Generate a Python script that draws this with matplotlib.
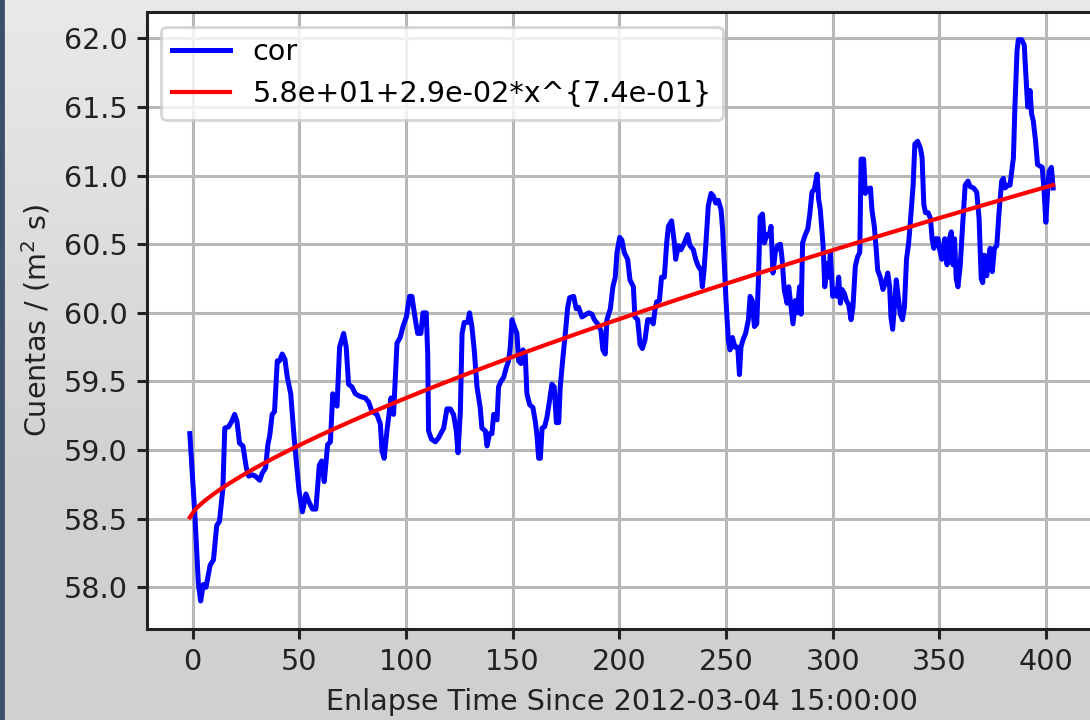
import numpy as np
import matplotlib
matplotlib.use("Agg")
import matplotlib.pyplot as plt
from matplotlib.patches import Rectangle

# ---- data ----
hours = [-1.3, 1.1, 2.7, 3.8, 5.0, 6.3, 8.2, 9.8, 11.3, 12.6, 14.2, 15.1, 16.9, 18.4, 19.7, 20.8,
         22.0, 23.6, 25.2, 26.3, 27.9, 29.4, 31.5, 32.6, 34.2, 35.3, 36.2, 37.3, 38.4, 39.7, 40.8,
         42.0, 43.3, 44.4, 46.0, 47.6, 49.9, 51.5, 53.1, 54.6, 56.2, 57.8, 59.4, 60.5, 61.7, 63.3,
         64.6, 65.7, 67.7, 68.9, 70.8, 72.0, 73.1, 74.7, 76.3, 78.6, 80.9, 82.5, 84.1, 86.4, 88.0,
         88.8, 89.8, 91.1, 91.9, 93.0, 94.2, 95.8, 97.3, 98.6, 100.2, 101.7, 102.8, 104.4, 105.5,
         107.0, 108.0, 109.5, 110.2, 110.6, 111.9, 113.8, 115.3, 117.7, 119.2, 120.8, 122.3, 123.6,
         124.4, 125.5, 126.3, 127.3, 128.9, 129.8, 130.9, 132.0, 133.3, 134.8, 135.6, 137.2, 138.0,
         139.2, 140.3, 141.1, 142.7, 143.4, 144.5, 145.8, 147.0, 148.1, 148.9, 149.7, 150.8, 152.0,
         152.8, 153.9, 154.8, 155.9, 156.7, 158.0, 159.5, 160.6, 161.4, 162.2, 163.0, 163.8, 165.0,
         166.1, 167.3, 168.4, 169.5, 170.5, 171.6, 172.3, 173.6, 174.7, 175.8, 176.7, 178.6, 179.8,
         180.9, 182.5, 183.6, 185.6, 187.2, 188.3, 189.8, 191.4, 192.3, 193.4, 194.2, 195.8, 197.0,
         198.1, 198.9, 200.2, 201.2, 202.3, 203.9, 205.0, 206.6, 207.3, 208.6, 209.7, 210.8, 212.0,
         213.3, 214.8, 215.9, 216.7, 217.5, 218.8, 219.8, 221.1, 222.2, 223.0, 224.5, 225.8, 226.4,
         227.7, 228.9, 230.5, 232.0, 233.1, 234.7, 235.8, 237.0, 238.3, 238.9, 239.7, 240.6, 241.7,
         243.0, 244.1, 245.2, 246.4, 247.7, 248.4, 249.2, 250.0, 251.1, 251.9, 253.0, 254.2, 255.5,
         256.3, 257.0, 258.1, 259.2, 260.5, 261.3, 262.3, 263.3, 264.4, 265.2, 266.0, 267.1, 268.0,
         269.1, 270.2, 271.1, 272.0, 273.1, 274.2, 275.5, 276.3, 277.3, 278.6, 279.4, 280.5, 281.4,
         282.5, 283.3, 284.5, 285.2, 285.9, 287.2, 288.3, 289.2, 290.3, 291.4, 292.7, 293.4, 294.2,
         295.5, 296.3, 297.3, 298.1, 298.9, 300.0, 300.9, 302.0, 302.8, 303.6, 304.4, 305.5, 306.4,
         307.5, 308.6, 309.5, 310.6, 311.7, 312.7, 313.3, 314.5, 315.3, 316.4, 317.7, 318.4, 319.5,
         320.5, 321.1, 322.3, 323.6, 324.7, 325.8, 326.7, 327.3, 328.1, 328.9, 329.8, 330.9, 331.7,
         332.7, 333.6, 334.6, 335.6, 336.4, 337.7, 338.5, 339.8, 341.1, 341.9, 342.7, 343.5, 344.7,
         345.8, 346.6, 347.4, 348.4, 349.4, 350.0, 351.2, 352.5, 353.6, 354.7, 355.6, 356.4, 357.1,
         357.9, 358.7, 359.8, 360.9, 362.1, 363.4, 364.4, 366.0, 367.5, 368.6, 369.6, 370.3, 371.1,
         372.2, 373.0, 373.8, 374.8, 375.8, 376.9, 378.0, 379.2, 380.0, 380.8, 382.0, 383.1, 383.9,
         384.7, 385.4, 386.4, 387.0, 388.6, 389.8, 390.4, 391.4, 392.5, 393.2, 394.0, 395.1, 396.0,
         397.1, 398.2, 399.1, 399.9, 400.7, 401.4, 402.5, 403.3]

cor = [59.12, 58.52, 58.03, 57.90, 58.02, 58.00, 58.16, 58.20, 58.45, 58.48, 58.72, 59.16, 59.17,
       59.21, 59.26, 59.21, 59.05, 59.03, 58.87, 58.81, 58.82, 58.81, 58.78, 58.83, 58.87, 59.04,
       59.11, 59.26, 59.28, 59.65, 59.65, 59.70, 59.66, 59.53, 59.41, 59.09, 58.70, 58.55, 58.68,
       58.62, 58.57, 58.57, 58.89, 58.92, 58.77, 59.04, 59.06, 59.41, 59.32, 59.75, 59.85, 59.75,
       59.48, 59.46, 59.41, 59.39, 59.38, 59.35, 59.28, 59.26, 59.19, 58.99, 58.94, 59.14, 59.24,
       59.38, 59.26, 59.78, 59.82, 59.90, 59.97, 60.12, 60.12, 59.95, 59.85, 59.85, 60.00, 60.00,
       59.70, 59.14, 59.08, 59.06, 59.09, 59.16, 59.30, 59.30, 59.26, 59.14, 58.98, 59.28, 59.85,
       59.93, 59.93, 60.00, 59.90, 59.73, 59.46, 59.31, 59.16, 59.14, 59.03, 59.12, 59.12, 59.26,
       59.22, 59.46, 59.50, 59.53, 59.60, 59.65, 59.75, 59.95, 59.90, 59.85, 59.65, 59.63, 59.73,
       59.70, 59.41, 59.33, 59.31, 59.21, 59.11, 58.94, 58.94, 59.16, 59.17, 59.24, 59.36, 59.48,
       59.46, 59.20, 59.20, 59.46, 59.68, 59.85, 60.04, 60.11, 60.12, 60.03, 60.04, 59.97, 59.98,
       60.00, 59.99, 59.95, 59.92, 59.87, 59.73, 59.70, 59.95, 60.03, 60.19, 60.26, 60.44, 60.55,
       60.53, 60.44, 60.39, 60.24, 60.19, 59.97, 59.95, 59.77, 59.74, 59.80, 59.95, 59.95, 59.92,
       60.02, 60.08, 60.09, 60.26, 60.26, 60.51, 60.63, 60.67, 60.51, 60.39, 60.49, 60.46, 60.51,
       60.57, 60.49, 60.46, 60.39, 60.34, 60.31, 60.19, 60.31, 60.51, 60.78, 60.87, 60.85, 60.80,
       60.82, 60.75, 60.61, 60.36, 60.09, 59.80, 59.73, 59.82, 59.75, 59.75, 59.55, 59.75, 59.81,
       59.85, 59.95, 60.12, 60.09, 59.90, 59.92, 60.24, 60.70, 60.72, 60.51, 60.57, 60.56, 60.63,
       60.29, 60.44, 60.49, 60.50, 60.39, 60.17, 60.07, 60.19, 60.04, 59.92, 60.09, 60.00, 60.19,
       59.99, 60.51, 60.57, 60.61, 60.71, 60.88, 60.90, 61.01, 60.83, 60.75, 60.49, 60.19, 60.36,
       60.26, 60.44, 60.12, 60.17, 60.12, 60.26, 60.07, 60.17, 60.14, 60.09, 60.06, 59.95, 60.04,
       60.34, 60.41, 60.44, 61.12, 61.12, 60.87, 60.90, 60.91, 60.75, 60.63, 60.44, 60.31, 60.26,
       60.17, 60.22, 60.29, 60.19, 59.97, 59.88, 60.04, 60.24, 60.09, 59.99, 59.95, 60.04, 60.39,
       60.51, 60.66, 60.93, 61.23, 61.25, 61.20, 61.13, 60.79, 60.73, 60.73, 60.69, 60.54, 60.47,
       60.54, 60.54, 60.47, 60.39, 60.54, 60.35, 60.54, 60.59, 60.35, 60.54, 60.25, 60.19, 60.35,
       60.64, 60.93, 60.96, 60.92, 60.91, 60.88, 60.69, 60.25, 60.22, 60.42, 60.27, 60.39, 60.47,
       60.30, 60.47, 60.49, 60.74, 60.96, 60.98, 60.91, 60.93, 60.93, 61.03, 61.13, 61.50, 61.91,
       61.99, 61.99, 61.95, 61.77, 61.50, 61.62, 61.45, 61.40, 61.25, 61.08, 61.07, 61.06, 60.88,
       60.66, 60.88, 61.03, 61.06, 60.91]

# power-law fit shown in the legend: a + b * t**c  (t = time since first sample)
fit_a = 58.51
fit_b = 0.0285
fit_c = 0.74
fit_label = "5.8e+01+2.9e-02*x^{7.4e-01}"
series_label = "cor"
x_label = "Enlapse Time Since 2012-03-04 15:00:00"
y_label = "Cuentas / (m$^2$ s)"

# ---- figure ----
W, H, DPI = 1090, 720, 200
plt.rcParams["font.size"] = 10.3
fig = plt.figure(figsize=(W / DPI, H / DPI), dpi=DPI)

# screenshot-like background (vertical gradient) + thin dark left border
bg = fig.add_axes([0, 0, 1, 1], zorder=0)
rows = np.linspace(0, 1, 200)
shade = np.clip(rows / 0.68, 0, 1)
top_c, bot_c = 0.915, 0.818
g = top_c + (bot_c - top_c) * shade
img = np.repeat(g[:, None], 2, axis=1)
bg.imshow(np.dstack([img, img, img]), aspect="auto", extent=[0, 1, 0, 1], origin="upper")
bg.add_patch(Rectangle((0, 0), 2.5 / W, 1, color="#3d4e6d", transform=bg.transAxes))
bg.set_axis_off()

left_px, right_px, top_px, bot_px = 146.7, 1096.2, 12.3, 629.0
ax = fig.add_axes([left_px / W, 1 - bot_px / H, (right_px - left_px) / W, (bot_px - top_px) / H],
                  zorder=1)
ax.set_facecolor("white")

x = np.array(hours)
y = np.array(cor)
fit = fit_a + fit_b * (x - x[0]) ** fit_c

ax.plot(x, y, color="b", lw=1.8, label=series_label)
ax.plot(x, fit, color="r", lw=1.5, label=fit_label)

ax.set_xlim(-21.5, 423.5)
ax.set_ylim(57.696, 62.19)
ax.set_xticks([0, 50, 100, 150, 200, 250, 300, 350, 400])
ax.set_yticks([58.0, 58.5, 59.0, 59.5, 60.0, 60.5, 61.0, 61.5, 62.0])
ax.set_yticklabels(["58.0", "58.5", "59.0", "59.5", "60.0", "60.5", "61.0", "61.5", "62.0"])
ax.grid(True, color="#b8b8b8", lw=1.1)
ax.set_axisbelow(True)
for s in ax.spines.values():
    s.set_linewidth(1.1)
    s.set_color("#222222")
ax.tick_params(width=1.1, color="#222222", labelcolor="#222222")
ax.set_xlabel(x_label, color="#222222")
ax.set_ylabel(y_label, color="#222222")
ax.legend(loc="upper left")

fig.savefig("out.png", dpi=DPI)
